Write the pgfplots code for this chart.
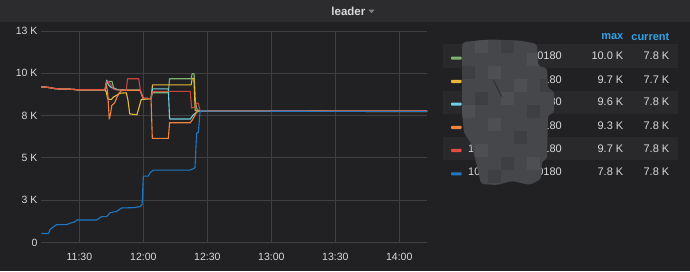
\documentclass[border=0pt]{standalone}
\usepackage{fontspec}
\setmainfont{Liberation Sans}
\usepackage{pgfplots}
\usepackage{pgfplotstable}
\pgfplotsset{compat=1.18}
\definecolor{bg}{HTML}{212124}
\definecolor{hdr}{HTML}{2C2C2F}
\definecolor{stripe}{HTML}{29292C}
\definecolor{gridc}{HTML}{404043}
\definecolor{txt}{HTML}{D8D9DA}
\definecolor{gGreen}{HTML}{7EB26D}
\definecolor{gYellow}{HTML}{EAB839}
\definecolor{gCyan}{HTML}{6ED0E0}
\definecolor{gOrange}{HTML}{EF843C}
\definecolor{gRed}{HTML}{E24D42}
\definecolor{gBlue}{HTML}{1F78C1}
\definecolor{link}{HTML}{33A2E5}
\definecolor{mosA}{HTML}{46474B}
\definecolor{mosB}{HTML}{4E4F53}
\definecolor{mosC}{HTML}{3E3F42}

\pgfplotstableread{
t v
12 9.2
14 9.18
16.5 9.15
17.5 9.11
19.5 9.09
22 9.07
27 9.05
28.8 9.03
42 9.03
42.8 9.45
43.5 9.52
45.3 9.52
46 9.15
47.5 9.05
52 9.0
58.5 9.0
59.9 8.52
63.6 8.5
64.2 8.85
71.7 8.85
72.3 9.68
82.4 9.68
82.9 9.98
83.8 9.98
84.4 8.3
85.2 7.85
86.5 7.78
193 7.76
}\green

\pgfplotstableread{
t v
12 9.2
14 9.18
16.5 9.15
17.5 9.11
19.5 9.09
22 9.07
27 9.05
28.8 9.03
42 9.03
42.6 8.9
43.3 8.48
45 8.45
46 8.6
47.5 8.7
49 8.82
52 8.85
52.8 8.4
53.6 7.6
57 7.55
58 8.0
59 8.45
63.6 8.5
64.3 9.32
82.4 9.32
82.9 9.7
83.7 9.7
84.3 7.8
85.5 7.76
193 7.74
}\yellow

\pgfplotstableread{
t v
12 9.2
14 9.18
16.5 9.15
17.5 9.11
19.5 9.09
22 9.07
27 9.05
28.8 9.03
42 9.03
42.8 9.6
43.5 9.35
44.5 9.2
46 9.1
48 9.02
55 9.0
58.5 9.0
59.9 8.52
63.6 8.5
64.3 9.08
71.7 9.08
72.3 7.3
82 7.3
83.5 7.55
85 7.7
86 7.78
193 7.76
}\cyan

\pgfplotstableread{
t v
12 9.2
14 9.18
16.5 9.15
17.5 9.11
19.5 9.09
22 9.07
27 9.05
28.8 9.03
42 9.03
42.7 9.3
43.3 8.8
44 7.3
44.6 7.6
45.2 8.1
46.5 8.25
47.5 8.55
48.7 8.85
50 9.0
58.5 9.0
59.9 8.52
63.6 8.5
64.2 6.15
71.7 6.15
72.3 7.08
82 7.08
83 7.25
84.5 7.6
85.5 7.78
193 7.77
}\orange

\pgfplotstableread{
t v
12 9.2
14 9.18
16.5 9.15
17.5 9.11
19.5 9.09
22 9.07
27 9.05
28.8 9.03
42 9.03
42.7 9.5
43.8 9.5
44.8 9.3
45.8 9.1
47 9.02
52 9.0
52.6 9.68
57.8 9.68
58.6 9.0
59.9 8.52
63.6 8.5
64.3 8.93
82 8.93
82.6 7.95
84.3 8.0
84.8 8.25
85.8 8.22
86.6 7.78
193 7.77
}\red

\pgfplotstableread{
t v
12.2 0.53
15.5 0.53
16.3 0.78
17.8 0.92
19.4 1.06
24.1 1.06
25.6 1.14
28 1.22
28.8 1.33
38.1 1.33
39.7 1.47
40.5 1.53
42.8 1.53
44.4 1.76
47.5 1.84
49.8 2.04
55.3 2.06
58.4 2.12
59.4 2.24
60 3.92
62.3 3.92
63.1 4.12
64.7 4.28
81.9 4.28
83.4 4.36
84.2 4.42
85 6.47
85.8 6.51
86.6 7.77
120 7.76
150 7.75
193 7.75
}\blue

\begin{document}
\begin{tikzpicture}[x=1pt,y=1pt]
\fill[bg] (0,0) rectangle (690,271);
\fill[hdr] (0,248.5) rectangle (690,271);
\node[txt, font=\fontsize{11.5}{13}\selectfont\bfseries, anchor=east, inner sep=0pt] at (365.5,260) {leader};
\fill[gray] (368.5,261.3) -- (374.5,261.3) -- (371.5,257.8) -- cycle;

\begin{axis}[at={(41pt,28.5pt)}, anchor=south west, scale only axis,
  width=386pt, height=211.5pt,
  xmin=12, xmax=193, ymin=0, ymax=12.5,
  xtick={30,60,90,120,150,180},
  xticklabels={11:30,12:00,12:30,13:00,13:30,14:00},
  ytick={0,2.5,5,7.5,10,12.5},
  yticklabels={0,3 K,5 K,8 K,10 K,13 K},
  grid=major, grid style={gridc, line width=0.9pt},
  axis line style={draw=none}, major tick length=0pt,
  ticklabel style={txt, font=\fontsize{10.5}{12}\selectfont},
  xticklabel style={anchor=center, yshift=-14pt},
  every axis plot/.append style={line width=1.1pt, line join=round, mark=none},
]
\addplot[gGreen] table[x=t,y=v] {\green};
\addplot[gYellow] table[x=t,y=v] {\yellow};
\addplot[gCyan] table[x=t,y=v] {\cyan};
\addplot[gOrange] table[x=t,y=v] {\orange};
\addplot[gRed, opacity=0.85] table[x=t,y=v] {\red};
\addplot[gBlue] table[x=t,y=v] {\blue};
\end{axis}

% legend
\fill[stripe] (443,203.5) rectangle (678,226.5);
\fill[stripe] (443,157.5) rectangle (678,180.5);
\fill[stripe] (443,111) rectangle (678,134);
\node[link, font=\fontsize{11}{13}\selectfont\bfseries, anchor=east, inner sep=0pt] at (623.5,234.5) {max};
\node[link, font=\fontsize{11}{13}\selectfont\bfseries, anchor=east, inner sep=0pt] at (669.5,234.5) {current};

\foreach \y/\c/\m/\cur in {215/gGreen/10.0 K/7.8 K, 191.7/gYellow/9.7 K/7.7 K, 169/gCyan/9.6 K/7.8 K, 145.7/gOrange/9.3 K/7.8 K, 122.7/gRed/9.7 K/7.8 K, 99.3/gBlue/7.8 K/7.8 K}{
  \fill[\c, rounded corners=0.8pt] (451,\y-3.7) rectangle (461.5,\y-0.6);
  \node[txt, font=\fontsize{11}{13}\selectfont, anchor=east, inner sep=0pt] at (623.5,\y) {\m};
  \node[txt, font=\fontsize{11}{13}\selectfont, anchor=east, inner sep=0pt] at (669.5,\y) {\cur};
  \node[txt, font=\fontsize{11}{13}\selectfont, anchor=east, inner sep=0pt] at (562,\y) {:20180};
}
\node[txt, font=\fontsize{11}{13}\selectfont, anchor=west, inner sep=0pt] at (468,122.7) {10};
\node[txt, font=\fontsize{11}{13}\selectfont, anchor=west, inner sep=0pt] at (468,99.3) {10};

% mosaic blob
\begin{scope}
\clip[rounded corners=3pt] (462,225) -- (463,229) -- (490,231.5) -- (520,230.5) -- (537,227) -- (538,205) -- (547,203) -- (548,182) -- (554,180) -- (554,158) -- (548,156) -- (547,112) -- (542,110) -- (541,92) -- (530,86) -- (512,90) -- (497,86) -- (481,87) -- (477,105) -- (471,128) -- (464,138) -- (462,160) -- cycle;
\fill[mosA] (455,80) rectangle (560,235);
\fill[mosB] (475,218) rectangle (488,231);
\fill[mosC] (501,218) rectangle (514,231);
\fill[mosB] (527,205) rectangle (540,218);
\fill[mosC] (462,192) rectangle (475,205);
\fill[mosB] (488,192) rectangle (501,205);
\fill[mosB] (514,179) rectangle (527,192);
\fill[mosC] (540,179) rectangle (554,192);
\fill[mosC] (475,166) rectangle (488,179);
\fill[mosB] (501,166) rectangle (514,179);
\fill[mosB] (462,153) rectangle (475,166);
\fill[mosC] (527,153) rectangle (540,166);
\fill[mosB] (488,140) rectangle (501,153);
\fill[mosC] (514,127) rectangle (527,140);
\fill[mosB] (475,114) rectangle (488,127);
\fill[mosC] (501,101) rectangle (514,114);
\fill[mosB] (527,101) rectangle (540,114);
\fill[mosC] (488,88) rectangle (501,101);
\end{scope}
\draw[black!80, line width=1.2pt] (493.5,191) -- (501.5,174.5);

\pgfresetboundingbox
\path[use as bounding box] (0,0) rectangle (690,271);
\end{tikzpicture}
\end{document}
